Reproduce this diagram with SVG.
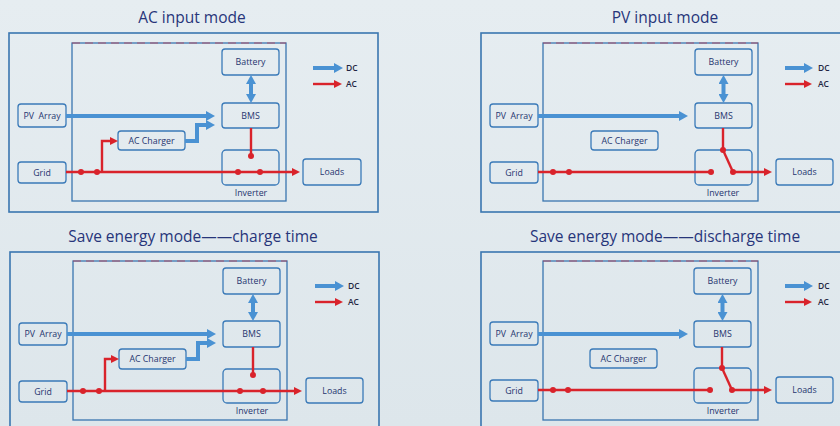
<svg xmlns="http://www.w3.org/2000/svg" width="840" height="426" viewBox="0 0 840 426">
<defs>
<linearGradient id="bg" x1="0" y1="0" x2="0" y2="1">
<stop offset="0" stop-color="#e6edf1"/>
<stop offset="1" stop-color="#dde6eb"/>
</linearGradient>
<marker id="ab" markerUnits="userSpaceOnUse" markerWidth="10" markerHeight="10" refX="2" refY="5" orient="auto-start-reverse" viewBox="0 0 10 10">
<path d="M0,0 L9,5 L0,10 z" fill="#4a92d3"/>
</marker>
<marker id="ar" markerUnits="userSpaceOnUse" markerWidth="9" markerHeight="8" refX="2" refY="4" orient="auto" viewBox="0 0 9 8">
<path d="M0,0 L8,4 L0,8 z" fill="#d9232b"/>
</marker>
</defs>
<style>
.panel{fill:none;stroke:#3a76b0;stroke-width:1.6}
.inner{fill:none;stroke:#3a76b0;stroke-width:1.3}
.topdash{fill:none;stroke:#d9232b;stroke-width:1;stroke-dasharray:8 5;opacity:0.6}
.box{fill:none;stroke:#3a7ab8;stroke-width:1.3}
.lbl{font-family:"Open Sans",sans-serif;font-size:8.8px;font-weight:500;fill:#26356f;text-anchor:middle;white-space:pre}
.title{font-family:"Open Sans",sans-serif;font-size:15.5px;font-weight:500;fill:#27357a;text-anchor:middle}
.leg{font-family:"Open Sans",sans-serif;font-size:8.5px;font-weight:600;fill:#1e2440}
.dc{fill:none;stroke:#4a92d3;stroke-width:4}
.acl{fill:none;stroke:#d9232b;stroke-width:2.4}
.dot{fill:#d9232b}
</style>
<rect x="0" y="0" width="840" height="426" fill="url(#bg)"/>

<!-- Panel 1: AC input mode -->
<g id="panel-ac" transform="translate(0,0)">
<text class="title" x="192" y="23">AC input mode</text>
<rect class="panel" x="9" y="33" width="369" height="179"/>
<rect class="inner" x="72" y="43" width="214" height="158"/>
<line class="topdash" x1="72" y1="43" x2="286" y2="43"/>
<g id="ac-battery"><rect class="box" x="222" y="49" width="57" height="26" rx="3"/><text class="lbl" x="250.5" y="65">Battery</text></g>
<g id="ac-bms"><rect class="box" x="222" y="103" width="57" height="25" rx="3"/><text class="lbl" x="250.5" y="119">BMS</text></g>
<g id="ac-inverter"><rect class="box" x="222" y="150" width="57" height="35" rx="4"/><text class="lbl" x="251" y="196">Inverter</text></g>
<g id="ac-pv"><rect class="box" x="18" y="104" width="48" height="23" rx="3"/><text class="lbl" x="42" y="119">PV  Array</text></g>
<g id="ac-grid"><rect class="box" x="18" y="162" width="48" height="21" rx="3"/><text class="lbl" x="42" y="176">Grid</text></g>
<g id="ac-charger"><rect class="box" x="118" y="131" width="67" height="19" rx="3"/><text class="lbl" x="151.5" y="144">AC Charger</text></g>
<g id="ac-loads"><rect class="box" x="303" y="159" width="58" height="26" rx="3"/><text class="lbl" x="332" y="175">Loads</text></g>
<g id="ac-legend">
<line class="dc" x1="313" y1="68" x2="336" y2="68" marker-end="url(#ab)"/><text class="leg" x="346" y="71">DC</text>
<line class="acl" x1="313" y1="84" x2="336" y2="84" marker-end="url(#ar)"/><text class="leg" x="346" y="87">AC</text>
</g>
<g id="ac-connectors">
<line class="dc" x1="66" y1="116" x2="208" y2="116" marker-end="url(#ab)"/>
<path class="dc" d="M185,141 H197 V125 H208" marker-end="url(#ab)"/>
<line class="dc" x1="251" y1="82" x2="251" y2="96" marker-start="url(#ab)" marker-end="url(#ab)"/>
<line class="acl" x1="66" y1="172" x2="294" y2="172" marker-end="url(#ar)"/>
<path class="acl" d="M102,172 V141 H112" marker-end="url(#ar)"/>
<line class="acl" x1="251" y1="128" x2="251" y2="156"/>
<circle class="dot" cx="81" cy="172" r="3"/><circle class="dot" cx="97" cy="172" r="3"/>
<circle class="dot" cx="238" cy="172" r="3"/><circle class="dot" cx="260" cy="172" r="3"/>
<circle class="dot" cx="251" cy="156" r="3"/>
</g>
</g>

<!-- Panel 2: PV input mode -->
<g id="panel-pv" transform="translate(472,0)">
<text class="title" x="193" y="23">PV input mode</text>
<rect class="panel" x="9" y="33" width="369" height="179"/>
<rect class="inner" x="71" y="43" width="215" height="158"/>
<line class="topdash" x1="71" y1="43" x2="286" y2="43"/>
<g id="pv-battery"><rect class="box" x="223" y="49" width="57" height="26" rx="3"/><text class="lbl" x="251.5" y="65">Battery</text></g>
<g id="pv-bms"><rect class="box" x="223" y="103" width="57" height="25" rx="3"/><text class="lbl" x="251.5" y="119">BMS</text></g>
<g id="pv-inverter"><rect class="box" x="223" y="150" width="57" height="35" rx="4"/><text class="lbl" x="251" y="196">Inverter</text></g>
<g id="pv-pv"><rect class="box" x="18" y="104" width="48" height="23" rx="3"/><text class="lbl" x="42" y="119">PV  Array</text></g>
<g id="pv-grid"><rect class="box" x="18" y="162" width="48" height="21" rx="3"/><text class="lbl" x="42" y="176">Grid</text></g>
<g id="pv-charger"><rect class="box" x="119" y="131" width="67" height="19" rx="3"/><text class="lbl" x="152.5" y="144">AC Charger</text></g>
<g id="pv-loads"><rect class="box" x="304" y="159" width="57" height="26" rx="3"/><text class="lbl" x="332.5" y="175">Loads</text></g>
<g id="pv-legend">
<line class="dc" x1="313" y1="68" x2="334" y2="68" marker-end="url(#ab)"/><text class="leg" x="346" y="71">DC</text>
<line class="acl" x1="313" y1="84" x2="334" y2="84" marker-end="url(#ar)"/><text class="leg" x="346" y="87">AC</text>
</g>
<g id="pv-connectors">
<line class="dc" x1="66" y1="116" x2="209" y2="116" marker-end="url(#ab)"/>
<line class="dc" x1="251.5" y1="82" x2="251.5" y2="96" marker-start="url(#ab)" marker-end="url(#ab)"/>
<line class="acl" x1="66" y1="172" x2="239" y2="172"/>
<line class="acl" x1="251" y1="128" x2="251" y2="150"/>
<line class="acl" x1="251" y1="150" x2="261" y2="172"/>
<line class="acl" x1="261" y1="172" x2="294" y2="172" marker-end="url(#ar)"/>
<circle class="dot" cx="81" cy="172" r="3"/><circle class="dot" cx="97" cy="172" r="3"/>
<circle class="dot" cx="239" cy="172" r="3"/><circle class="dot" cx="251" cy="150" r="3"/>
<circle class="dot" cx="261" cy="172" r="3"/>
</g>
</g>

<!-- Panel 3: Save energy mode charge time -->
<g id="panel-charge" transform="translate(1,219)">
<text class="title" x="192" y="23">Save energy mode——charge time</text>
<rect class="panel" x="9" y="33" width="369" height="179"/>
<rect class="inner" x="72" y="42" width="214" height="159"/>
<line class="topdash" x1="72" y1="42" x2="286" y2="42"/>
<g id="ch-battery"><rect class="box" x="222" y="49" width="57" height="26" rx="3"/><text class="lbl" x="250.5" y="65">Battery</text></g>
<g id="ch-bms"><rect class="box" x="222" y="102" width="57" height="26" rx="3"/><text class="lbl" x="250.5" y="118">BMS</text></g>
<g id="ch-inverter"><rect class="box" x="222" y="150" width="57" height="34" rx="4"/><text class="lbl" x="251" y="195">Inverter</text></g>
<g id="ch-pv"><rect class="box" x="18" y="104" width="48" height="22" rx="3"/><text class="lbl" x="42" y="118">PV  Array</text></g>
<g id="ch-grid"><rect class="box" x="18" y="162" width="48" height="21" rx="3"/><text class="lbl" x="42" y="176">Grid</text></g>
<g id="ch-charger"><rect class="box" x="118" y="130" width="67" height="20" rx="3"/><text class="lbl" x="151.5" y="143">AC Charger</text></g>
<g id="ch-loads"><rect class="box" x="305" y="159" width="57" height="25" rx="3"/><text class="lbl" x="333.5" y="175">Loads</text></g>
<g id="ch-legend">
<line class="dc" x1="314" y1="67" x2="336" y2="67" marker-end="url(#ab)"/><text class="leg" x="347" y="70">DC</text>
<line class="acl" x1="314" y1="83" x2="336" y2="83" marker-end="url(#ar)"/><text class="leg" x="347" y="86">AC</text>
</g>
<g id="ch-connectors">
<line class="dc" x1="66" y1="115" x2="208" y2="115" marker-end="url(#ab)"/>
<path class="dc" d="M185,140 H197 V124 H208" marker-end="url(#ab)"/>
<line class="dc" x1="252" y1="82" x2="252" y2="95" marker-start="url(#ab)" marker-end="url(#ab)"/>
<line class="acl" x1="66" y1="172" x2="295" y2="172" marker-end="url(#ar)"/>
<path class="acl" d="M104,172 V140 H112" marker-end="url(#ar)"/>
<line class="acl" x1="252" y1="128" x2="252" y2="156"/>
<circle class="dot" cx="82" cy="172" r="3"/><circle class="dot" cx="98" cy="172" r="3"/>
<circle class="dot" cx="239" cy="172" r="3"/><circle class="dot" cx="262" cy="172" r="3"/>
<circle class="dot" cx="252" cy="156" r="3"/>
</g>
</g>

<!-- Panel 4: Save energy mode discharge time -->
<g id="panel-discharge" transform="translate(472,219)">
<text class="title" x="193" y="23">Save energy mode——discharge time</text>
<rect class="panel" x="9" y="33" width="369" height="179"/>
<rect class="inner" x="71" y="42" width="215" height="159"/>
<line class="topdash" x1="71" y1="42" x2="286" y2="42"/>
<g id="dis-battery"><rect class="box" x="222" y="49" width="57" height="26" rx="3"/><text class="lbl" x="250.5" y="65">Battery</text></g>
<g id="dis-bms"><rect class="box" x="222" y="102" width="57" height="26" rx="3"/><text class="lbl" x="250.5" y="118">BMS</text></g>
<g id="dis-inverter"><rect class="box" x="222" y="149" width="57" height="35" rx="4"/><text class="lbl" x="251" y="195">Inverter</text></g>
<g id="dis-pv"><rect class="box" x="18" y="103" width="48" height="23" rx="3"/><text class="lbl" x="42" y="118">PV  Array</text></g>
<g id="dis-grid"><rect class="box" x="18" y="161" width="48" height="21" rx="3"/><text class="lbl" x="42" y="175">Grid</text></g>
<g id="dis-charger"><rect class="box" x="118" y="130" width="67" height="19" rx="3"/><text class="lbl" x="151.5" y="143">AC Charger</text></g>
<g id="dis-loads"><rect class="box" x="304" y="158" width="57" height="26" rx="3"/><text class="lbl" x="332.5" y="174">Loads</text></g>
<g id="dis-legend">
<line class="dc" x1="313" y1="67" x2="334" y2="67" marker-end="url(#ab)"/><text class="leg" x="346" y="70">DC</text>
<line class="acl" x1="313" y1="83" x2="334" y2="83" marker-end="url(#ar)"/><text class="leg" x="346" y="86">AC</text>
</g>
<g id="dis-connectors">
<line class="dc" x1="66" y1="115" x2="209" y2="115" marker-end="url(#ab)"/>
<line class="dc" x1="250.5" y1="82" x2="250.5" y2="95" marker-start="url(#ab)" marker-end="url(#ab)"/>
<line class="acl" x1="66" y1="171" x2="238" y2="171"/>
<line class="acl" x1="250" y1="128" x2="250" y2="149"/>
<line class="acl" x1="250" y1="149" x2="260" y2="171"/>
<line class="acl" x1="260" y1="171" x2="294" y2="171" marker-end="url(#ar)"/>
<circle class="dot" cx="81" cy="171" r="3"/><circle class="dot" cx="96" cy="171" r="3"/>
<circle class="dot" cx="238" cy="171" r="3"/><circle class="dot" cx="250" cy="149" r="3"/>
<circle class="dot" cx="260" cy="171" r="3"/>
</g>
</g>
</svg>
